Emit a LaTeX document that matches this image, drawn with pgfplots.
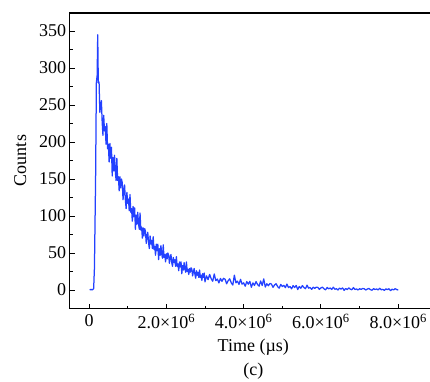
\documentclass[border=0pt]{standalone}
\usepackage{fontspec}
\setmainfont{Liberation Serif}
\usepackage{pgfplots}
\pgfplotsset{compat=1.18}
\definecolor{curve}{RGB}{35,65,255}
\begin{document}
\begin{tikzpicture}
\path[use as bounding box] (0,0) rectangle (430pt,381pt);
\begin{axis}[
  at={(69.7pt,72.5pt)}, anchor=south west,
  scale only axis, width=367.2pt, height=296pt,
  xmin=-0.5, xmax=9, ymin=-25, ymax=375,
  xtick={0,2,4,6,8},
  xticklabels={0,2.0×10\textsuperscript{6},4.0×10\textsuperscript{6},6.0×10\textsuperscript{6},8.0×10\textsuperscript{6}},
  minor xtick={1,3,5,7},
  ytick={0,50,...,350},
  minor ytick={25,75,...,325},
  tick align=inside, tick pos=left,
  major tick length=5pt, minor tick length=3pt,
  every tick/.style={black, line width=0.9pt},
  axis line style={line width=1pt},
  font=\fontsize{18}{21.6}\selectfont,
  /pgf/number format/assume math mode=true,
  xticklabel shift=2pt,
  ylabel={Counts},
  ylabel shift=6pt,
  xlabel={Time (µs)\\[3pt](c)},
  xlabel shift=3pt,
  xlabel style={align=center},
]
\addplot[curve, line width=1.25pt, line join=round, no markers] coordinates {
(0.02,1) (0.04,0) (0.06,1) (0.08,0) (0.10,1) (0.12,2) (0.14,30) (0.17,150) (0.19,280) (0.21,290) (0.225,345) (0.24,280)
(0.26,281) (0.28,240) (0.30,250) (0.32,256) (0.34,227) (0.36,209) (0.38,236) (0.40,215) (0.42,221) (0.44,197)
(0.46,225) (0.48,191) (0.50,197) (0.52,173) (0.54,198) (0.56,178) (0.58,193) (0.60,154) (0.62,179) (0.64,161)
(0.66,182) (0.68,161) (0.70,148) (0.72,178) (0.74,148) (0.76,153) (0.78,134) (0.80,153) (0.82,138) (0.84,150)
(0.86,145) (0.88,122) (0.90,135) (0.92,142) (0.94,122) (0.96,110) (0.98,132) (1.00,117) (1.02,123) (1.04,107)
(1.06,129) (1.08,105) (1.10,110) (1.12,93) (1.14,113) (1.16,99) (1.18,111) (1.20,82) (1.22,101) (1.24,89)
(1.26,105) (1.28,90) (1.30,82) (1.32,104) (1.34,81) (1.36,85) (1.38,70) (1.40,84) (1.42,73) (1.44,83)
(1.46,79) (1.48,63) (1.50,73) (1.52,78) (1.54,64) (1.56,56) (1.58,73) (1.60,62) (1.62,67) (1.64,56)
(1.66,72) (1.68,55) (1.70,59) (1.72,47) (1.74,62) (1.76,53) (1.78,62) (1.80,41) (1.82,56) (1.84,47)
(1.86,60) (1.88,49) (1.90,43) (1.92,61) (1.94,44) (1.96,48) (1.98,38) (2.00,49) (2.02,42) (2.04,50)
(2.06,47) (2.08,36) (2.10,44) (2.12,48) (2.14,37) (2.16,32) (2.18,44) (2.20,37) (2.22,41) (2.24,32)
(2.26,45) (2.28,32) (2.30,35) (2.32,26) (2.34,38) (2.36,31) (2.38,38) (2.40,22) (2.42,33) (2.44,27)
(2.46,37) (2.48,29) (2.50,24) (2.52,38) (2.54,25) (2.56,28) (2.58,21) (2.60,29) (2.62,24) (2.64,30)
(2.66,28) (2.68,19) (2.70,25) (2.72,29) (2.74,21) (2.76,16) (2.78,26) (2.80,20) (2.82,24) (2.84,17)
(2.86,27) (2.88,17) (2.90,20) (2.92,13) (2.94,22) (2.96,17) (2.98,23) (3.00,11)
(3.04,19.1) (3.08,14.0) (3.12,21.1) (3.16,15.3) (3.20,11.8) (3.24,21.7) (3.28,12.7) (3.32,14.8) (3.36,9.6)
(3.40,15.6) (3.44,11.7) (3.48,15.8) (3.52,14.6) (3.56,8.3) (3.60,12.7) (3.64,15.1) (3.68,9.6) (3.72,6.8)
(3.76,20.0) (3.80,9.7) (3.84,12.0) (3.88,7.6) (3.92,14.4) (3.96,7.9) (4.00,9.7) (4.04,5.1) (4.08,11.4)
(4.12,7.9) (4.16,11.7) (4.20,3.7) (4.24,9.6) (4.28,6.2) (4.32,11.4) (4.36,7.5) (4.40,5.2) (4.44,12.2)
(4.48,6.1) (4.52,15.0) (4.56,4.0) (4.60,8.5) (4.64,5.7) (4.68,8.8) (4.72,8.0) (4.76,3.6) (4.80,6.8)
(4.84,8.5) (4.88,4.6) (4.92,2.5) (4.96,7.6) (5.00,4.7) (5.04,6.3) (5.08,3.2) (5.12,8.0) (5.16,3.4)
(5.20,4.7) (5.24,1.6) (5.28,5.9) (5.32,3.4) (5.36,6.1) (5.40,0.6) (5.44,4.7) (5.48,2.4) (5.52,6.0)
(5.56,3.3) (5.60,1.8) (5.64,6.5) (5.68,2.4) (5.72,3.4) (5.76,0.9) (5.80,3.8) (5.84,2.1) (5.88,3.9)
(5.92,3.5) (5.96,0.8) (6.00,2.8) (6.04,3.9) (6.08,1.5) (6.12,0.2) (6.16,3.4) (6.20,1.7) (6.24,2.7)
(6.28,0.8) (6.32,3.8) (6.36,1.0) (6.40,1.8) (6.44,0.0) (6.48,2.6) (6.52,1.2) (6.56,2.8) (6.60,-0.5)
(6.64,2.0) (6.68,0.6) (6.72,2.9) (6.76,1.2) (6.80,0.3) (6.84,3.3) (6.88,0.7) (6.92,1.5) (6.96,0.0)
(7.00,1.8) (7.04,0.8) (7.08,2.0) (7.12,1.7) (7.16,0.0) (7.20,1.3) (7.24,2.1) (7.28,0.5) (7.32,-0.3)
(7.36,1.8) (7.40,0.7) (7.44,1.4) (7.48,0.1) (7.52,2.3) (7.56,0.3) (7.60,0.9) (7.64,-0.4) (7.68,1.5)
(7.72,0.5) (7.76,1.7) (7.80,-0.8) (7.84,1.2) (7.88,0.1) (7.92,1.8) (7.96,0.6) (8.00,0.0)
};
\draw[line width=2.2pt] (rel axis cs:0,1) -- (rel axis cs:1,1);
\end{axis}
\end{tikzpicture}
\end{document}
